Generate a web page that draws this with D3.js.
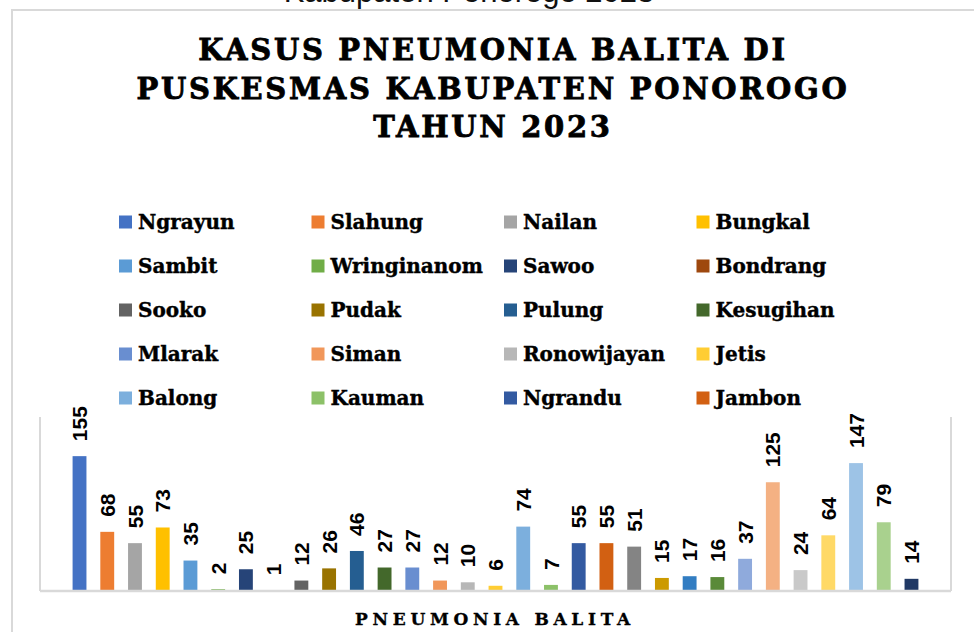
<!DOCTYPE html>
<html>
<head>
<meta charset="utf-8">
<script src="https://cdn.jsdelivr.net/npm/d3@7"></script>
<style>
  body { margin: 0; background: #fff; }
  svg { display: block; }
</style>
</head>
<body>
<div id="chart"></div>
<script>
// data
var puskesmas = ["Ngrayun", "Slahung", "Nailan", "Bungkal", "Sambit", "Wringinanom", "Sawoo", "Bondrang",
                 "Sooko", "Pudak", "Pulung", "Kesugihan", "Mlarak", "Siman", "Ronowijayan", "Jetis",
                 "Balong", "Kauman", "Ngrandu", "Jambon", "Badegan", "Sampung", "Sukorejo", "Kunti",
                 "Ngebel", "Jenangan", "Setono", "Babadan", "Kertosari", "Ponorogo Utara", "Ponorogo Selatan"];
var kasus = [155, 68, 55, 73, 35, 2, 25, 1, 12, 26, 46, 27, 27, 12, 10, 6,
             74, 7, 55, 55, 51, 15, 17, 16, 37, 125, 24, 64, 147, 79, 14];
var warna = ["#4472C4", "#ED7D31", "#A5A5A5", "#FFC000", "#5B9BD5", "#70AD47", "#264478", "#9E480E",
             "#636363", "#997300", "#255E91", "#43682B", "#698ED0", "#F1975A", "#B7B7B7", "#FFCD33",
             "#7CAFDD", "#8CC168", "#335AA1", "#D26012", "#848484", "#CC9A00", "#327DC2", "#5A8A39",
             "#8FAADC", "#F4B183", "#C9C9C9", "#FFD966", "#9DC3E6", "#A9D18E", "#203864"];
var legendCount = 20;   // excel legend only shows the first 20
var judul = ["KASUS PNEUMONIA BALITA DI", "PUSKESMAS KABUPATEN PONOROGO", "TAHUN 2023"];
var yTicks = [0, 200];

var W = 974, H = 632;
var serif = "'DejaVu Serif', serif";

var svg = d3.select("#chart").append("svg")
    .attr("width", W)
    .attr("height", H);

svg.append("rect").attr("width", W).attr("height", H).attr("fill", "#fff");

// caption cut off above the chart
svg.append("text")
    .attr("x", 469)
    .attr("y", 2)
    .attr("text-anchor", "middle")
    .style("font-family", "'Liberation Sans', Arial, sans-serif")
    .style("font-size", "31px")
    .attr("fill", "#111")
    .text("Kabupaten Ponorogo 2023");

// chart area border
svg.append("rect")
    .attr("x", 12).attr("y", 10)
    .attr("width", 1000).attr("height", 700)
    .attr("fill", "#fff")
    .attr("stroke", "#d9d9d9")
    .attr("stroke-width", 2);

// title
svg.selectAll(".judul")
    .data(judul)
    .enter().append("text")
    .attr("class", "judul")
    .attr("x", 493)
    .attr("y", function(d, i) { return 60 + i * 38.5; })
    .attr("text-anchor", "middle")
    .style("font-family", serif)
    .style("font-weight", "bold")
    .style("font-size", "29px")
    .style("letter-spacing", "2.7px")
    .attr("fill", "#000")
    .attr("stroke", "#000")
    .attr("stroke-width", 0.8)
    .text(function(d) { return d; });

// legend
var legend = svg.selectAll(".leg")
    .data(puskesmas.slice(0, legendCount))
    .enter().append("g")
    .attr("class", "leg")
    .attr("transform", function(d, i) {
      return "translate(" + (119 + (i % 4) * 192.5) + "," + (222 + Math.floor(i / 4) * 44) + ")";
    });

legend.append("rect")
    .attr("x", 0).attr("y", -6.5)
    .attr("width", 13).attr("height", 13)
    .attr("fill", function(d, i) { return warna[i]; });

legend.append("text")
    .attr("x", 19)
    .attr("y", 7)
    .style("font-family", serif)
    .style("font-weight", "bold")
    .style("font-size", "20px")
    .attr("fill", "#000")
    .attr("stroke", "#000")
    .attr("stroke-width", 0.4)
    .text(function(d) { return d; });

// plot area
var x0 = 40, x1 = 951, yBase = 591, yTop = 417;

var x = d3.scaleBand()
    .domain(puskesmas)
    .range([x0, x1])
    .paddingInner(0.5)
    .paddingOuter(1.175);

var y = d3.scaleLinear()
    .domain([yTicks[0], yTicks[1]])
    .range([yBase, yTop]);

// side lines of the plot area
svg.append("line")
    .attr("x1", x0).attr("x2", x0)
    .attr("y1", y(yTicks[1])).attr("y2", y(0))
    .attr("stroke", "#d9d9d9").attr("stroke-width", 2);
svg.append("line")
    .attr("x1", x1).attr("x2", x1)
    .attr("y1", y(yTicks[1])).attr("y2", y(0))
    .attr("stroke", "#d9d9d9").attr("stroke-width", 2);

svg.selectAll(".bar")
    .data(kasus)
    .enter().append("rect")
    .attr("class", "bar")
    .attr("x", function(d, i) { return x(puskesmas[i]); })
    .attr("y", function(d) { return y(d); })
    .attr("width", x.bandwidth())
    .attr("height", function(d) { return y(0) - y(d); })
    .attr("fill", function(d, i) { return warna[i]; });

// x axis line
svg.append("line")
    .attr("x1", x0).attr("x2", x1)
    .attr("y1", y(0)).attr("y2", y(0))
    .attr("stroke", "#d9d9d9").attr("stroke-width", 2.5);

// data labels
svg.selectAll(".lbl")
    .data(kasus)
    .enter().append("text")
    .attr("class", "lbl")
    .attr("transform", function(d, i) {
      var cx = x(puskesmas[i]) + x.bandwidth() / 2;
      return "translate(" + cx + "," + (y(d) - 15) + ") rotate(-90)";
    })
    .attr("dy", "0.36em")
    .style("font-family", "'Liberation Sans', Arial, sans-serif")
    .style("font-weight", "bold")
    .style("font-size", "21px")
    .attr("fill", "#000")
    .text(function(d) { return d; });

// axis title
svg.append("text")
    .attr("x", 495)
    .attr("y", 625)
    .attr("text-anchor", "middle")
    .style("font-family", serif)
    .style("font-weight", "bold")
    .style("font-size", "17px")
    .style("letter-spacing", "4.7px")
    .attr("fill", "#000")
    .attr("stroke", "#000")
    .attr("stroke-width", 0.3)
    .text("PNEUMONIA BALITA");
</script>
</body>
</html>
